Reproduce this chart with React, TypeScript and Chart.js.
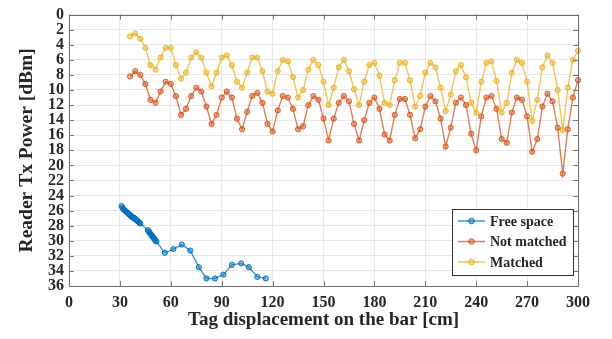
import React, { useEffect, useRef } from "react";
import { Chart, registerables } from "chart.js";

Chart.register(...registerables);

const matchedX = [36,39,42,45,48,51,54,57,60,63,66,69,72,75,78,81,84,87,90,93,96,99,102,105,108,111,114,117,120,123,126,129,132,135,138,141,144,147,150,153,156,159,162,165,168,171,174,177,180,183,186,189,192,195,198,201,204,207,210,213,216,219,222,225,228,231,234,237,240,243,246,249,252,255,258,261,264,267,270,273,276,279,282,285,288,291,294,297,300];
const matchedY = [2.9,2.5,3.2,4.4,6.7,7.3,5.7,4.4,4.4,6.7,8.5,7.7,5.7,5.0,5.7,7.7,9.5,7.7,5.7,5.4,6.7,8.9,9.7,7.7,5.7,5.7,7.5,10.2,10.5,7.5,6.0,6.2,8.3,11.0,10.0,7.3,6.0,6.7,8.9,12.0,9.7,7.0,6.0,7.5,9.9,12.0,8.9,6.7,6.4,8.1,11.7,12.0,8.7,6.4,6.4,8.7,12.2,10.8,7.7,6.4,7.0,9.7,12.8,10.6,7.5,6.7,8.3,11.7,13.0,8.9,6.4,6.2,8.8,13.0,11.7,7.7,6.0,6.4,8.9,14.1,11.3,7.0,5.4,6.4,10.0,15.3,9.7,6.0,4.8];

const notMatchedX = matchedX;
const notMatchedY = [8.2,7.5,8.0,9.2,11.3,11.7,10.2,8.9,9.2,10.8,13.3,12.5,10.8,9.7,10.2,12.2,14.5,13.3,11.0,10.2,11.0,13.8,15.2,12.9,10.8,10.4,11.7,14.5,15.5,12.7,10.8,11.0,12.5,15.2,14.8,12.0,10.8,11.3,13.8,16.7,13.8,11.7,10.8,11.5,14.5,16.7,14.0,11.7,11.0,12.5,15.9,16.7,13.3,11.2,11.2,13.3,16.4,15.2,12.2,10.8,11.5,13.8,17.5,15.0,11.7,11.0,12.0,15.8,18.0,13.5,11.0,10.8,12.5,16.5,17.0,13.0,11.0,11.3,13.5,18.2,16.5,12.2,10.5,11.5,15.0,21.1,15.2,11.0,8.7];

const freeX = [31,31.5,32,32.5,33,33.5,34,34.5,35,35.5,36,36.5,37,37.5,38,38.5,39,39.5,40,40.5,41,41.5,42,46.5,47,47.5,48,48.5,49,49.5,50,50.5,51,51.5,56.5,61.5,66.5,71.5,76.5,81,86,91,96,101.5,106,111,116];
const freeY = [25.4,25.6,25.8,25.9,26.0,26.1,26.2,26.3,26.4,26.5,26.6,26.7,26.8,26.9,26.9,27.0,27.1,27.2,27.3,27.4,27.5,27.6,27.7,28.6,28.8,28.9,29.1,29.2,29.4,29.5,29.7,29.8,30.0,30.1,31.6,31.1,30.5,31.3,33.5,35.0,35.0,34.5,33.2,33.0,33.5,34.8,35.0];

const seriesNames = ["Free space", "Not matched", "Matched"];
const xTickStep = 30;
const yTickStep = 2;

const FONT = "'Liberation Serif', 'Times New Roman', serif";
const TEXT = "#262626";

const toPts = (xs: number[], ys: number[]) => xs.map((x, i) => ({ x, y: ys[i] }));

const boxAndTicks = {
  id: "boxAndTicks",
  afterDatasetsDraw(chart: any) {
    const { ctx, chartArea: a, scales } = chart;
    ctx.save();
    ctx.strokeStyle = "#7a7a7a";
    ctx.lineWidth = 1;
    ctx.beginPath();
    const len = 5;
    scales.x.ticks.forEach((t: any) => {
      const px = Math.round(scales.x.getPixelForValue(t.value)) + 0.5;
      ctx.moveTo(px, a.bottom);
      ctx.lineTo(px, a.bottom - len);
      ctx.moveTo(px, a.top);
      ctx.lineTo(px, a.top + len);
    });
    scales.y.ticks.forEach((t: any) => {
      const py = Math.round(scales.y.getPixelForValue(t.value)) + 0.5;
      ctx.moveTo(a.left, py);
      ctx.lineTo(a.left + len, py);
      ctx.moveTo(a.right, py);
      ctx.lineTo(a.right - len, py);
    });
    ctx.stroke();
    ctx.strokeStyle = "#6e6e6e";
    ctx.strokeRect(Math.round(a.left) + 0.5, Math.round(a.top) + 0.5, Math.round(a.right - a.left), Math.round(a.bottom - a.top));
    ctx.restore();
  },
  afterDraw(chart: any) {
    const { ctx } = chart;
    const bx = 452, by = 209, bw = 121, bh = 66;
    ctx.save();
    ctx.fillStyle = "#ffffff";
    ctx.fillRect(bx, by, bw, bh);
    ctx.strokeStyle = "#333333";
    ctx.lineWidth = 1;
    ctx.strokeRect(bx + 0.5, by + 0.5, bw, bh);
    chart.data.datasets.forEach((ds: any, i: number) => {
      const cy = by + 12 + i * 20.5;
      ctx.strokeStyle = ds.borderColor;
      ctx.lineWidth = 1.5;
      ctx.beginPath();
      ctx.moveTo(bx + 6, cy);
      ctx.lineTo(bx + 33, cy);
      ctx.stroke();
      ctx.beginPath();
      ctx.arc(bx + 19.5, cy, 2.8, 0, Math.PI * 2);
      ctx.fillStyle = ds.pointBackgroundColor;
      ctx.fill();
      ctx.strokeStyle = ds.pointBorderColor;
      ctx.lineWidth = 1;
      ctx.stroke();
      ctx.fillStyle = TEXT;
      ctx.font = `bold 14px ${FONT}`;
      ctx.textBaseline = "middle";
      ctx.textAlign = "left";
      ctx.fillText(ds.label, bx + 38, cy + 1);
    });
    ctx.restore();
  },
};

export default function App() {
  const ref = useRef<HTMLCanvasElement | null>(null);
  useEffect(() => {
    if (!ref.current) return;
    const mk = (label: string, pts: any[], rgb: string) => ({
      label,
      data: pts,
      borderColor: `rgba(${rgb},0.75)`,
      borderWidth: 1.4,
      pointRadius: 2.6,
      pointBorderWidth: 1,
      pointBorderColor: `rgba(${rgb},0.95)`,
      pointBackgroundColor: `rgba(${rgb},0.45)`,
      tension: 0,
      clip: 6,
    });
    const chart = new Chart(ref.current, {
      type: "line",
      data: {
        datasets: [
          mk(seriesNames[0], toPts(freeX, freeY), "0,114,189"),
          mk(seriesNames[1], toPts(notMatchedX, notMatchedY), "217,83,25"),
          mk(seriesNames[2], toPts(matchedX, matchedY), "237,177,32"),
        ],
      },
      options: {
        responsive: false,
        animation: false,
        devicePixelRatio: 1,
        layout: { padding: { left: 0, right: 34, top: 12, bottom: 0 } },
        plugins: { legend: { display: false }, tooltip: { enabled: false } },
        scales: {
          x: {
            type: "linear",
            min: 0,
            max: 300,
            afterFit: (s: any) => { s.height = 53; },
            ticks: { stepSize: xTickStep, autoSkip: false, maxRotation: 0, padding: 7, color: TEXT, font: { family: FONT, size: 16, weight: "bold" } },
            grid: { color: "#e8e8e8", drawTicks: false },
            border: { display: false },
            title: { display: true, text: "Tag displacement on the bar [cm]", color: TEXT, padding: { top: 0, bottom: 8 }, font: { family: FONT, size: 19, weight: "bold" } },
          },
          y: {
            type: "linear",
            min: 0,
            max: 36,
            reverse: true,
            afterFit: (s: any) => { s.width = 69; },
            ticks: { stepSize: yTickStep, autoSkip: false, padding: 5, color: TEXT, font: { family: FONT, size: 16, weight: "bold" } },
            grid: { color: "#e8e8e8", drawTicks: false },
            border: { display: false },
            title: { display: true, text: "Reader Tx Power [dBm]", color: TEXT, padding: { top: 15, bottom: 0 }, font: { family: FONT, size: 19.5, weight: "bold" } },
          },
        },
      },
      plugins: [boxAndTicks],
    } as any);
    return () => chart.destroy();
  }, []);
  return (
    <div style={{ position: "absolute", left: 0, top: 0, width: 612, height: 339, background: "#fff" }}>
      <canvas ref={ref} width={612} height={339} style={{ display: "block" }} />
    </div>
  );
}
